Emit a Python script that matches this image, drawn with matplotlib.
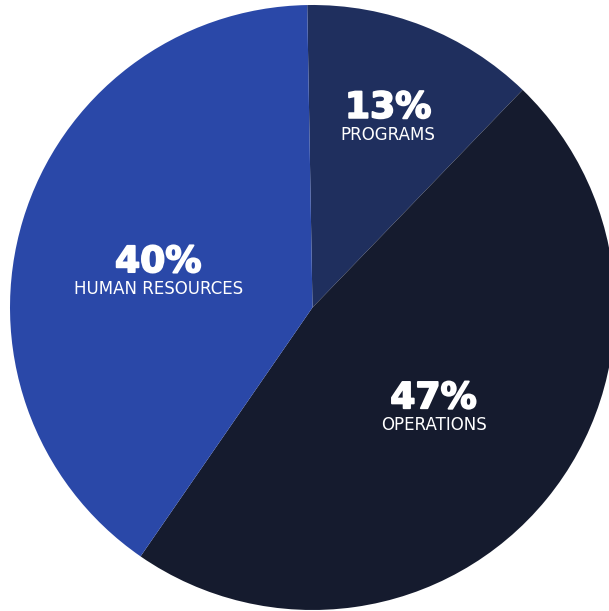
import matplotlib.pyplot as plt
import matplotlib.patheffects as pe

# budget split (wedge sizes, labels as printed)
categories = ["PROGRAMS", "OPERATIONS", "HUMAN RESOURCES"]
shares = [12.5, 47.4, 40.1]
pct_labels = ["13%", "47%", "40%"]

colors = ["#1f2f5e", "#151b2e", "#2a48a8"]
# label anchor (x, y) in axes data units, pie radius = 1
label_pos = [(0.25, 0.66), (0.40, -0.30), (-0.51, 0.15)]

fig = plt.figure(figsize=(6.09, 6.11), dpi=100)
ax = fig.add_axes([0, 0, 1, 1])
ax.pie(shares, colors=colors, startangle=91, counterclock=False,
       radius=1.0, center=(0, 0), wedgeprops={"linewidth": 0})

# thicken the bold glyphs a little so they read like a black weight
heavy = [pe.withStroke(linewidth=1.3, foreground="white")]
for (x, y), name, pct in zip(label_pos, categories, pct_labels):
    ax.text(x, y, pct, color="white", fontsize=26, fontweight="bold",
            family="DejaVu Sans", ha="center", va="center", path_effects=heavy)
    ax.text(x, y - 0.09, name, color="white", fontsize=12,
            family="DejaVu Sans", ha="center", va="center")

ax.set_xlim(-312.5 / 302.5, (609 - 312.5) / 302.5)
ax.set_ylim(-(611 - 307.5) / 302.5, 307.5 / 302.5)
ax.set_aspect("auto")
ax.axis("off")
fig.savefig("out.png", dpi=100)
